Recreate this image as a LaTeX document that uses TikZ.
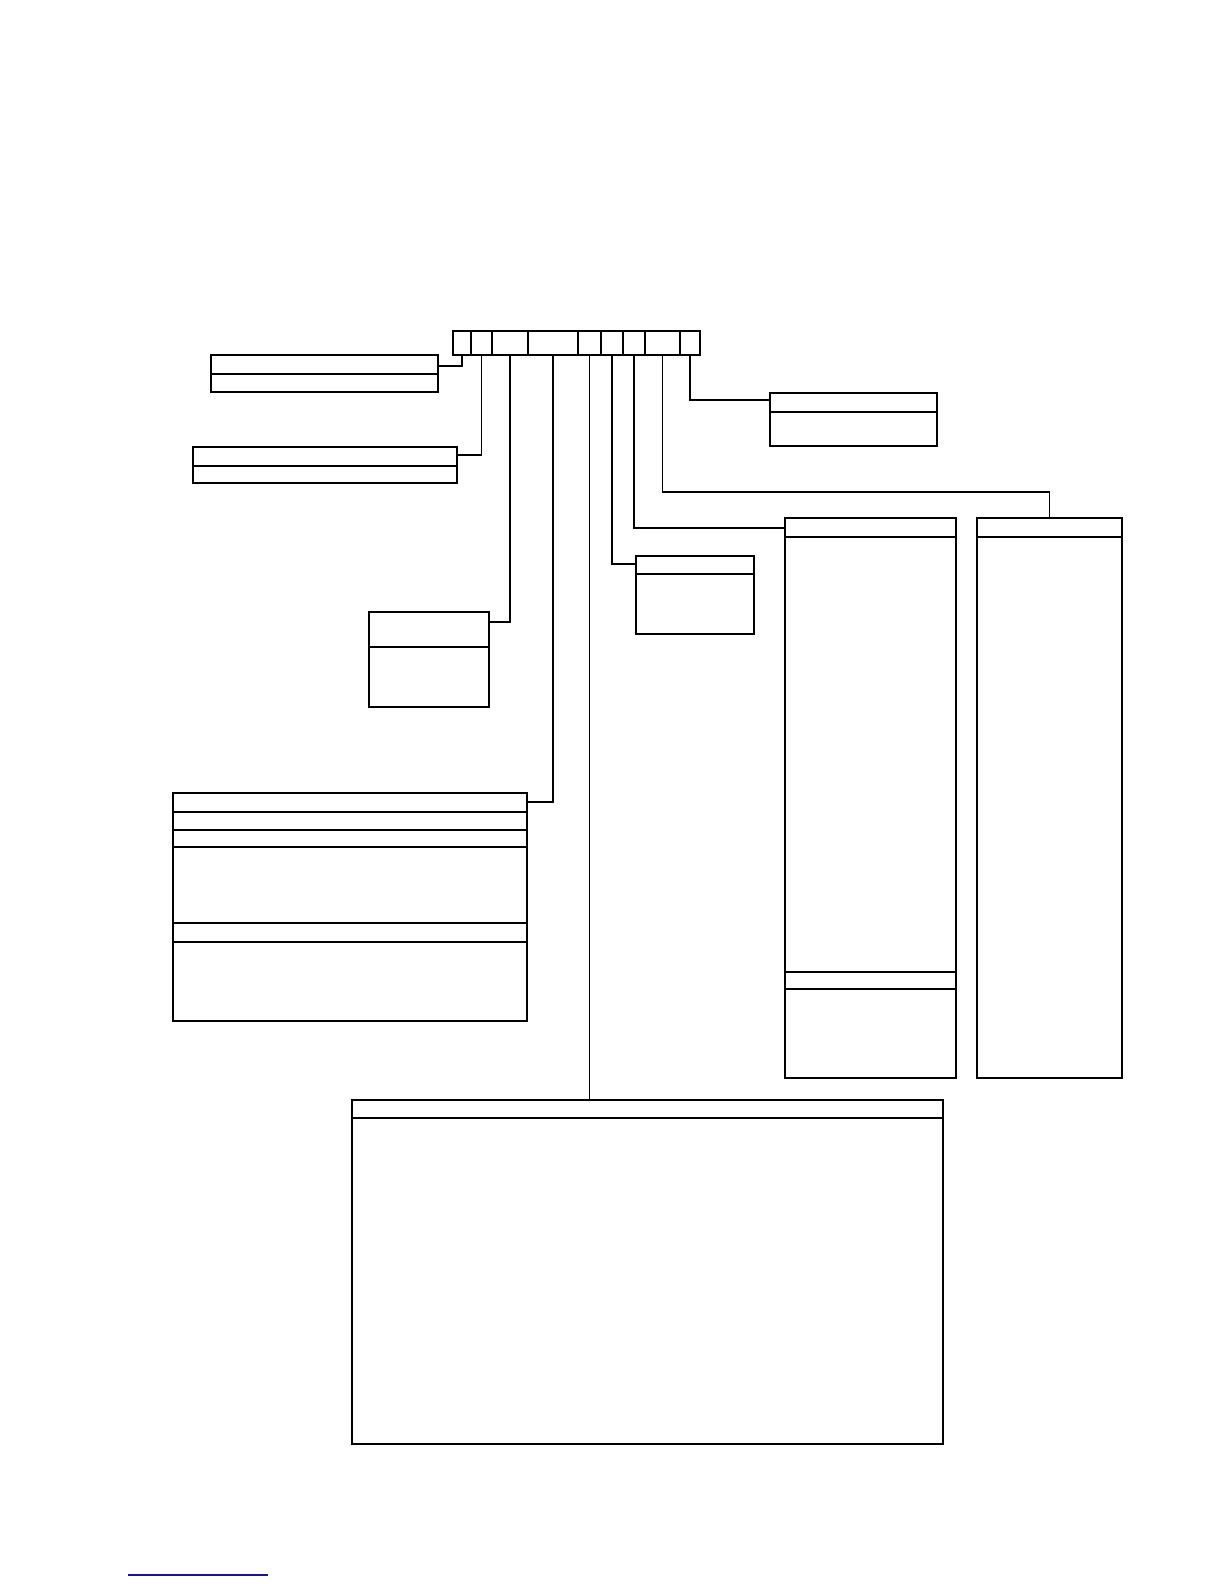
\documentclass[tikz,border=0pt]{standalone}
\usetikzlibrary{positioning}
\definecolor{linkblue}{RGB}{20,20,150}
\tikzset{
  cell/.style={draw, rectangle, inner sep=0pt, outer sep=0pt, anchor=north west, minimum height=24pt},
  fieldbox/.style={draw, rectangle, inner sep=0pt, outer sep=0pt, anchor=north west}
}
\begin{document}
\begin{tikzpicture}[x=1pt, y=-1pt, line width=1.2pt]
    \path[use as bounding box] (0,0) rectangle (1224,1584);
    % the field bar
    \foreach \n/\x/\w in {1/453/18, 2/471/21, 3/492/36, 4/528/50, 5/578/23, 6/601/22, 7/623/22, 8/645/35, 9/680/20}
      \node[cell, minimum width=\w] (c\n) at (\x,331) {};
    % the boxes
    \node[fieldbox, minimum width=227, minimum height=37] (b1) at (211,355) {};
    \node[fieldbox, minimum width=264, minimum height=36] (b2) at (193,447) {};
    \node[fieldbox, minimum width=120, minimum height=95] (b3) at (369,612) {};
    \node[fieldbox, minimum width=354, minimum height=228] (b4) at (173,793) {};
    \node[fieldbox, minimum width=591, minimum height=344] (b5) at (352,1100) {};
    \node[fieldbox, minimum width=118, minimum height=78] (b6) at (636,556) {};
    \node[fieldbox, minimum width=171, minimum height=560] (b7) at (785,518) {};
    \node[fieldbox, minimum width=145, minimum height=560] (b8) at (977,518) {};
    \node[fieldbox, minimum width=167, minimum height=53] (b9) at (770,393) {};
    % dividers
    \draw ([yshift=-19pt]b1.north west) -- ([yshift=-19pt]b1.north east);
    \draw ([yshift=-19pt]b2.north west) -- ([yshift=-19pt]b2.north east);
    \draw[line width=2pt] (b3.north west) -- (b3.north east);
    \draw ([yshift=-35pt]b3.north west) -- ([yshift=-35pt]b3.north east);
    \foreach \d in {19,37,54,130,149}
      \draw ([yshift=-\d pt]b4.north west) -- ([yshift=-\d pt]b4.north east);
    \draw ([yshift=-18pt]b5.north west) -- ([yshift=-18pt]b5.north east);
    \draw[line width=2pt] (b6.north west) -- (b6.north east);
    \draw[line width=2pt] ([yshift=-18pt]b6.north west) -- ([yshift=-18pt]b6.north east);
    \foreach \d in {19,454,471}
      \draw ([yshift=-\d pt]b7.north west) -- ([yshift=-\d pt]b7.north east);
    \draw ([yshift=-19pt]b8.north west) -- ([yshift=-19pt]b8.north east);
    \draw ([yshift=-19pt]b9.north west) -- ([yshift=-19pt]b9.north east);
    % connectors
    \draw (c1.south) |- ([yshift=-11pt]b1.north east);
    \draw (c2.south) |- ([yshift=-8pt]b2.north east);
    \draw (c3.south) |- ([yshift=-10pt]b3.north east);
    \draw (c4.south) |- ([yshift=-9pt]b4.north east);
    \draw (c5.south) -- (c5.south |- b5.north);
    \draw (c6.south) |- ([yshift=-8pt]b6.north west);
    \draw (c7.south) |- ([yshift=-10pt]b7.north west);
    \draw (c8.south) |- ([yshift=26pt]b8.north) -- (b8.north);
    \draw (c9.south) |- ([yshift=-7pt]b9.north west);
    % link underline
    \draw[linkblue] (128,1575) -- (268,1575);
\end{tikzpicture}
\end{document}
